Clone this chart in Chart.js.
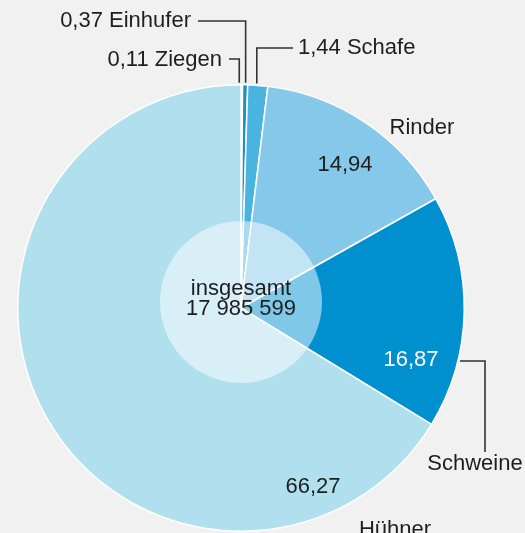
<!DOCTYPE html>
<html>
<head>
<meta charset="utf-8">
<script src="https://cdn.jsdelivr.net/npm/chart.js@4.4.1/dist/chart.umd.min.js"></script>
<style>
  html, body { margin: 0; padding: 0; background: #f1f1f1; }
  canvas { display: block; }
</style>
</head>
<body>
<canvas id="pieChart" width="525" height="533"></canvas>
<script>
// Anteile der Tierarten in Prozent (im Uhrzeigersinn ab 12 Uhr)
const categories = ['Ziegen', 'Einhufer', 'Schafe', 'Rinder', 'Schweine', 'Hühner'];
const shares = [0.11, 0.37, 1.44, 14.94, 16.87, 66.27];
const sliceColors = ['#5fb9e0', '#1f8fc6', '#4ab4e0', '#86c8e9', '#0090cf', '#b0dfee'];
const totalCaption = 'insgesamt';
const totalValue = '17 985 599';

const FONT = '22px "Liberation Sans", Arial, sans-serif';
const TEXT = '#1e1e1e';

// German decimal comma
const fmt = v => v.toFixed(2).replace('.', ',');

// ==================== label plugin ====================
const labelPlugin = {
    id: 'pieLabels',
    afterDatasetsDraw: (chart) => {
        const ctx = chart.ctx;
        const arcs = chart.getDatasetMeta(0).data;
        const cx = arcs[0].x, cy = arcs[0].y;
        const r = arcs[0].outerRadius;

        // point on the rim in the middle of a slice
        const rim = (i) => {
            const a = (arcs[i].startAngle + arcs[i].endAngle) / 2;
            return { x: cx + Math.cos(a) * r, y: cy + Math.sin(a) * r };
        };

        ctx.save();
        // translucent centre disc
        ctx.beginPath();
        ctx.arc(cx, cy - 6, 81, 0, Math.PI * 2);
        ctx.fillStyle = 'rgba(255,255,255,0.5)';
        ctx.fill();

        ctx.font = FONT;
        ctx.fillStyle = TEXT;
        ctx.textBaseline = 'middle';
        ctx.textAlign = 'center';
        ctx.fillText(totalCaption, cx, cy - 19);
        ctx.fillText(totalValue, cx, cy + 1);

        // leader lines
        ctx.strokeStyle = '#333';
        ctx.lineWidth = 1.6;
        const leader = (pts) => {
            ctx.beginPath();
            ctx.moveTo(pts[0][0], pts[0][1]);
            for (let k = 1; k < pts.length; k++) ctx.lineTo(pts[k][0], pts[k][1]);
            ctx.stroke();
        };

        // Ziegen
        let p = rim(0);
        leader([[229, 59], [p.x - 2.5, 59], [p.x - 2.5, p.y - 2]]);
        ctx.textAlign = 'right';
        ctx.fillText(fmt(shares[0]) + ' ' + categories[0], 222, 60);

        // Einhufer
        p = rim(1);
        leader([[198, 21], [p.x + 0.5, 21], [p.x + 0.5, p.y - 2]]);
        ctx.fillText(fmt(shares[1]) + ' ' + categories[1], 191, 21);

        // Schafe
        p = rim(2);
        leader([[p.x - 1, p.y - 2], [p.x - 1, 48], [293, 48]]);
        ctx.textAlign = 'left';
        ctx.fillText(fmt(shares[2]) + ' ' + categories[2], 298, 48);

        // Rinder
        ctx.textAlign = 'center';
        ctx.fillText(categories[3], 422, 128);
        ctx.fillText(fmt(shares[3]), 345, 165);

        // Schweine
        const ly = 361;
        const ex = cx + Math.sqrt(r * r - (ly - cy) * (ly - cy));
        leader([[ex + 2, ly], [485, ly], [485, 452]]);
        ctx.fillText(categories[4], 475, 464);
        ctx.fillStyle = '#ffffff';
        ctx.fillText(fmt(shares[4]), 411, 360);

        // Hühner
        ctx.fillStyle = TEXT;
        ctx.fillText(fmt(shares[5]), 313, 487);
        ctx.fillText(categories[5], 395, 530);
        ctx.restore();
    }
};

// ==================== chart ====================
const pieChart = new Chart(document.getElementById('pieChart').getContext('2d'), {
    type: 'pie',
    data: {
        labels: categories,
        datasets: [{
            data: shares,
            backgroundColor: sliceColors,
            borderColor: '#ffffff',
            borderWidth: 1.5
        }]
    },
    options: {
        responsive: false,
        animation: false,
        layout: { padding: { left: 17, right: 60, top: 84, bottom: 1 } },
        plugins: {
            legend: { display: false },
            tooltip: { enabled: false }
        }
    },
    plugins: [labelPlugin]
});
</script>
</body>
</html>
